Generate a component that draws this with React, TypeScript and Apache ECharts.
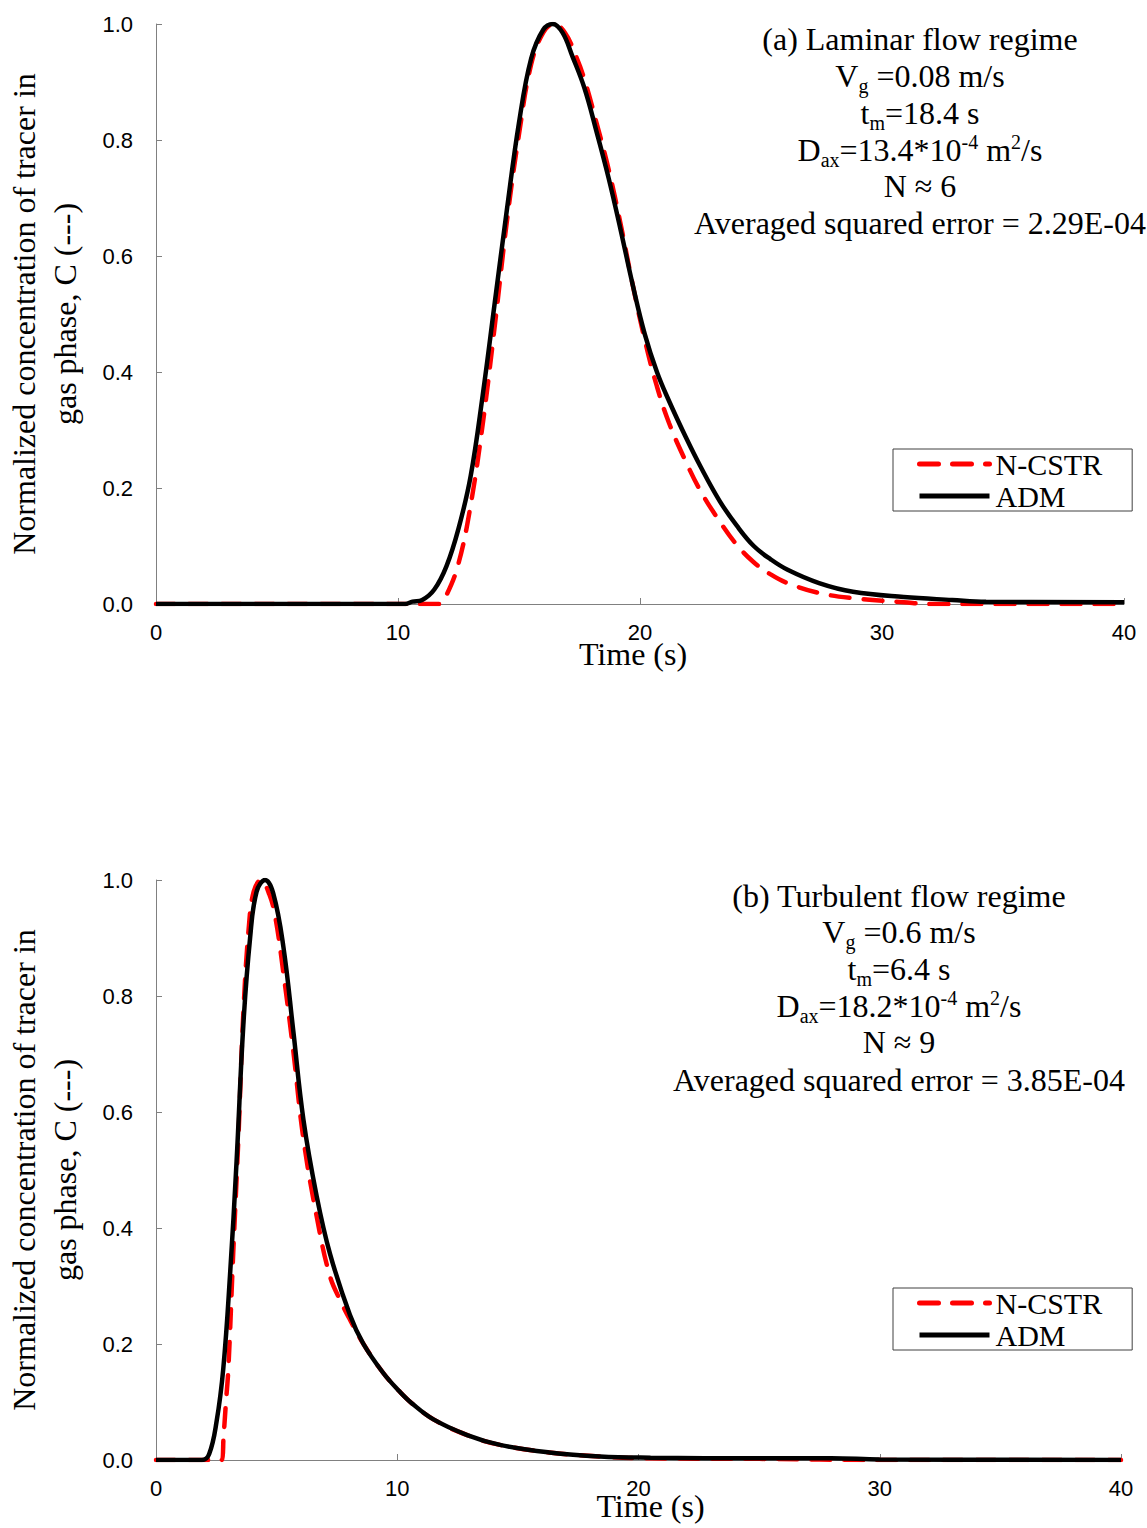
import React, { useEffect, useRef } from "react";
import * as echarts from "echarts";

// ---------- Data ----------
// (a) Laminar flow regime
const timeLamADM = [0, 10.3, 10.6, 11.0, 11.5, 12.0, 12.5, 13.0, 13.5, 14.0, 14.5, 15.0, 15.5, 16.0, 16.4, 16.8, 17.2, 17.7, 18.2, 18.7, 19.2, 19.7, 20.2, 20.7, 21.2, 21.9, 22.5, 23.3, 24.0, 24.7, 25.4, 26.1, 27.4, 28.8, 30.9, 32.9, 34.3, 40];
const concLamADM = [0, 0, 0.004, 0.007, 0.025, 0.065, 0.13, 0.22, 0.36, 0.52, 0.68, 0.83, 0.94, 0.99, 1.0, 0.985, 0.945, 0.89, 0.815, 0.735, 0.645, 0.55, 0.465, 0.4, 0.35, 0.287, 0.237, 0.177, 0.135, 0.1, 0.077, 0.059, 0.036, 0.021, 0.012, 0.007, 0.004, 0.003];
const timeLamCSTR = [0, 11.7, 12.0, 12.5, 13.0, 13.5, 14.0, 14.5, 15.0, 15.5, 16.0, 16.45, 16.9, 17.3, 17.7, 18.2, 18.7, 19.2, 19.7, 20.2, 20.7, 21.2, 21.9, 22.5, 23.3, 24.0, 24.7, 25.4, 26.1, 27.4, 28.8, 30.9, 32.0, 40];
const concLamCSTR = [0, 0, 0.015, 0.07, 0.17, 0.31, 0.48, 0.66, 0.81, 0.93, 0.985, 1.0, 0.985, 0.95, 0.905, 0.83, 0.75, 0.655, 0.55, 0.455, 0.375, 0.312, 0.245, 0.195, 0.142, 0.102, 0.072, 0.051, 0.036, 0.019, 0.01, 0.003, 0, 0];

// (b) Turbulent flow regime
const timeTurbADM = [0, 1.9, 2.2, 2.51, 2.79, 3.07, 3.34, 3.62, 3.9, 4.17, 4.52, 4.86, 5.28, 5.69, 6.11, 6.66, 7.21, 8.04, 8.6, 9.42, 10.1, 10.6, 11.5, 12.9, 14.26, 16.3, 18.4, 20.5, 25.0, 28.0, 30.0, 40];
const concTurbADM = [0, 0, 0.01, 0.066, 0.158, 0.32, 0.515, 0.75, 0.9, 0.98, 1.0, 0.977, 0.885, 0.74, 0.587, 0.455, 0.356, 0.25, 0.2, 0.15, 0.118, 0.098, 0.07, 0.043, 0.026, 0.013, 0.006, 0.004, 0.003, 0.003, 0.001, 0];
const timeTurbCSTR = [0, 2.72, 2.8, 2.9, 3.0, 3.2, 3.41, 3.62, 3.85, 4.05, 4.35, 4.7, 4.95, 5.28, 5.69, 6.11, 6.66, 7.21, 7.7, 8.04, 8.6, 9.42, 10.1, 10.6, 11.5, 12.9, 14.26, 16.3, 18.4, 20.5, 25.0, 30.0, 40];
const concTurbCSTR = [0, 0, 0.04, 0.1, 0.158, 0.356, 0.55, 0.77, 0.92, 0.98, 1.0, 0.975, 0.935, 0.84, 0.706, 0.554, 0.42, 0.317, 0.27, 0.242, 0.2, 0.15, 0.118, 0.098, 0.07, 0.043, 0.026, 0.013, 0.006, 0.003, 0.002, 0, 0];

const seriesNames = ["N-CSTR", "ADM"];
const xName = "Time (s)";
const yName = "Normalized concentration of tracer in\ngas phase, C (---)";

// annotation lines (rich-text markup for sub/superscripts)
const notesLam = [
  "(a) Laminar flow regime",
  "V{sub|g} =0.08 m/s",
  "t{sub|m}=18.4 s",
  "D{sub|ax}=13.4*10{sup|-4} m{sup|2}/s",
  "N ≈ 6",
  "Averaged squared error = 2.29E-04",
];
const notesTurb = [
  "(b) Turbulent flow regime",
  "V{sub|g} =0.6 m/s",
  "t{sub|m}=6.4 s",
  "D{sub|ax}=18.2*10{sup|-4} m{sup|2}/s",
  "N ≈ 9",
  "Averaged squared error = 3.85E-04",
];

// ---------- Styles ----------
const SERIF = "'Liberation Serif', 'Times New Roman', serif";
const SANS = "'Liberation Sans', Arial, sans-serif";
const AXIS_GRAY = "#808080";
const SERIF_SIZE = 32;

const zip = (t: number[], c: number[]) => t.map((v, i) => [v, c[i]]);

function makeAxes(gridIndex: number, namePad: number[], xNameGap: number) {
  const x = {
    type: "value",
    gridIndex,
    min: 0,
    max: 40,
    interval: 10,
    name: xName,
    nameLocation: "middle",
    nameGap: xNameGap,
    nameMoveOverlap: false,
    nameTextStyle: { fontFamily: SERIF, fontSize: SERIF_SIZE, color: "#000", padding: namePad, lineHeight: 24 },
    axisLine: { show: true, onZero: false, lineStyle: { color: AXIS_GRAY, width: 1 } },
    axisTick: { show: true, inside: true, length: 6, lineStyle: { color: AXIS_GRAY, width: 1 } },
    axisLabel: { fontFamily: SANS, fontSize: 22, color: "#000", margin: 17 },
    splitLine: { show: false },
  };
  const y = {
    type: "value",
    gridIndex,
    min: 0,
    max: 1,
    interval: 0.2,
    name: yName,
    nameLocation: "middle",
    nameRotate: 90,
    nameGap: 71,
    nameTextStyle: { fontFamily: SERIF, fontSize: SERIF_SIZE, color: "#000", lineHeight: 41 },
    axisLine: { show: true, lineStyle: { color: AXIS_GRAY, width: 1 } },
    axisTick: { show: true, inside: true, length: 6, lineStyle: { color: AXIS_GRAY, width: 1 } },
    axisLabel: {
      fontFamily: SANS,
      fontSize: 22,
      color: "#000",
      margin: 23,
      formatter: (v: number) => v.toFixed(1),
    },
    splitLine: { show: false },
  };
  return { x, y };
}

function makeLegend(top: number) {
  return {
    orient: "vertical",
    left: 893,
    top,
    data: seriesNames,
    itemWidth: 70,
    itemHeight: 4,
    itemGap: 2,
    padding: [0, 30, 0, 24],
    borderColor: "#404040",
    borderWidth: 1,
    backgroundColor: "#fff",
    itemStyle: { opacity: 0 },
    lineStyle: { width: 5 },
    textStyle: { fontFamily: SERIF, fontSize: 30, color: "#000", lineHeight: 30, padding: [0, 0, 0, 1] },
    selectedMode: false,
  };
}

const richStyles = {
  sub: { fontFamily: SERIF, fontSize: 20, lineHeight: 20, padding: [20, 0, 0, 0], verticalAlign: "middle", fill: "#000" },
  sup: { fontFamily: SERIF, fontSize: 20, lineHeight: 20, padding: [0, 0, 16, 0], verticalAlign: "middle", fill: "#000" },
};

function makeNotes(lines: string[], cx: number, ys: number[]) {
  return lines.map((txt, i) => ({
    type: "text",
    x: cx,
    y: ys[i],
    z: 100,
    style: {
      text: txt,
      fontFamily: SERIF,
      fontSize: SERIF_SIZE,
      lineHeight: 37,
      fill: "#000",
      align: "center",
      verticalAlign: "middle",
      rich: richStyles,
    },
  }));
}

function lineSeries(name: string, data: number[][], idx: number) {
  const dashed = name === "N-CSTR";
  return {
    name,
    type: "line",
    xAxisIndex: idx,
    yAxisIndex: idx,
    data,
    symbol: "none",
    showSymbol: false,
    smooth: 0.4,
    z: dashed ? 2 : 3,
    lineStyle: dashed
      ? { color: "#ff0000", width: 4.5, type: [19, 14], cap: "round" }
      : { color: "#000000", width: 4.5 },
    itemStyle: { color: dashed ? "#ff0000" : "#000000" },
  };
}

export default function App() {
  const ref = useRef<HTMLDivElement>(null);

  useEffect(() => {
    if (!ref.current) return;
    const chart = echarts.init(ref.current, null, { renderer: "svg" });
    const a = makeAxes(0, [0, 14, 0, 0], 38);
    const b = makeAxes(1, [0, 0, 0, 24], 34);
    const option = {
      animation: false,
      backgroundColor: "#ffffff",
      grid: [
        { left: 156, top: 24, width: 968, height: 580, containLabel: false, outerBoundsMode: "none" },
        { left: 156, top: 880, width: 965, height: 580, containLabel: false, outerBoundsMode: "none" },
      ],
      xAxis: [a.x, b.x],
      yAxis: [a.y, b.y],
      legend: [makeLegend(449), makeLegend(1288)],
      series: [
        lineSeries("N-CSTR", zip(timeLamCSTR, concLamCSTR), 0),
        lineSeries("ADM", zip(timeLamADM, concLamADM), 0),
        lineSeries("N-CSTR", zip(timeTurbCSTR, concTurbCSTR), 1),
        lineSeries("ADM", zip(timeTurbADM, concTurbADM), 1),
      ],
      graphic: {
        elements: [
          ...makeNotes(notesLam, 920, [39, 76, 113, 150, 186, 223]),
          ...makeNotes(notesTurb, 899, [896, 932, 969, 1006, 1042, 1080]),
        ],
      },
    };
    chart.setOption(option as any);
    return () => chart.dispose();
  }, []);

  return (
    <div
      ref={ref}
      style={{ position: "absolute", left: 0, top: 0, width: 1147, height: 1528, background: "#fff" }}
    />
  );
}
